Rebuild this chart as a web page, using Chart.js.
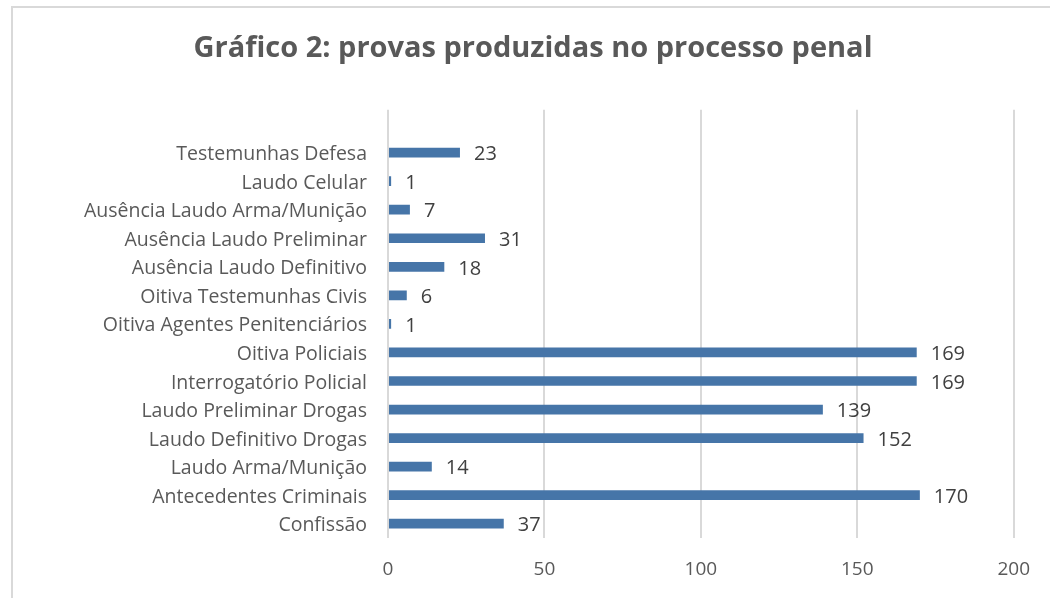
<!DOCTYPE html>
<html>
<head>
<meta charset="utf-8">
<script src="https://cdn.jsdelivr.net/npm/chart.js@4/dist/chart.umd.min.js"></script>
<style>
    html, body { margin: 0; padding: 0; background: #ffffff; overflow: hidden; }
    #frame {
        position: absolute; left: 11px; top: 6px; width: 1100px; height: 700px;
        border-left: 2px solid #d9d9d9; border-top: 2px solid #d9d9d9;
    }
    #wrap { position: absolute; left: 0; top: 0; width: 1050px; height: 598px; }
</style>
</head>
<body>
<div id="frame"></div>
<div id="wrap"><canvas id="chartProvas"></canvas></div>
<script>
// Gráfico 2: provas produzidas no processo penal (de cima para baixo)
const categorias = [
    '',
    'Testemunhas Defesa',
    'Laudo Celular',
    'Ausência Laudo Arma/Munição',
    'Ausência Laudo Preliminar',
    'Ausência Laudo Definitivo',
    'Oitiva Testemunhas Civis',
    'Oitiva Agentes Penitenciários',
    'Oitiva Policiais',
    'Interrogatório Policial',
    'Laudo Preliminar Drogas',
    'Laudo Definitivo Drogas',
    'Laudo Arma/Munição',
    'Antecedentes Criminais',
    'Confissão'
];
const valores = [null, 23, 1, 7, 31, 18, 6, 1, 169, 169, 139, 152, 14, 170, 37];
const ticksX = [0, 50, 100, 150, 200];

const FONTE = "'Open Sans', sans-serif";
const COR_TEXTO = '#595959';
const COR_BARRA = '#4675a8';
const COR_GRADE = '#d9d9d9';

// Rótulos de dados à direita de cada barra
const rotulosPlugin = {
    id: 'rotulos',
    afterDatasetsDraw(chart) {
        const ctx = chart.ctx;
        const meta = chart.getDatasetMeta(0);
        ctx.save();
        ctx.font = '20px ' + FONTE;
        ctx.fillStyle = '#404040';
        ctx.textAlign = 'left';
        ctx.textBaseline = 'middle';
        meta.data.forEach(function(bar, i) {
            const v = valores[i];
            if (v === null) return;
            ctx.fillText(String(v), bar.x + 14, bar.y + 2);
        });
        ctx.restore();
    }
};

new Chart(document.getElementById('chartProvas'), {
    type: 'bar',
    data: {
        labels: categorias,
        datasets: [{
            data: valores,
            backgroundColor: COR_BARRA,
            categoryPercentage: 1,
            barPercentage: 0.34
        }]
    },
    options: {
        indexAxis: 'y',
        responsive: true,
        maintainAspectRatio: false,
        animation: false,
        layout: { padding: { left: 50, right: 34, top: 0, bottom: 0 } },
        plugins: {
            legend: { display: false },
            tooltip: { enabled: false },
            title: {
                display: true,
                text: 'Gráfico 2: provas produzidas no processo penal',
                color: COR_TEXTO,
                font: { family: FONTE, size: 29, weight: 'bold' },
                padding: { top: 31, bottom: 44 }
            }
        },
        scales: {
            x: {
                min: 0,
                max: 200,
                afterBuildTicks: function(axis) {
                    axis.ticks = ticksX.map(v => ({ value: v }));
                },
                afterFit: function(axis) { axis.height = 60; },
                ticks: { color: COR_TEXTO, font: { family: FONTE, size: 19 }, padding: 20 },
                grid: { color: COR_GRADE, lineWidth: 2, drawTicks: false },
                border: { display: false }
            },
            y: {
                afterFit: function(axis) { axis.width = 338; },
                ticks: { color: COR_TEXTO, font: { family: FONTE, size: 19.5 }, padding: 21, labelOffset: 2, autoSkip: false },
                grid: { display: false, drawTicks: false },
                border: { display: false }
            }
        }
    },
    plugins: [rotulosPlugin]
});
</script>
</body>
</html>
